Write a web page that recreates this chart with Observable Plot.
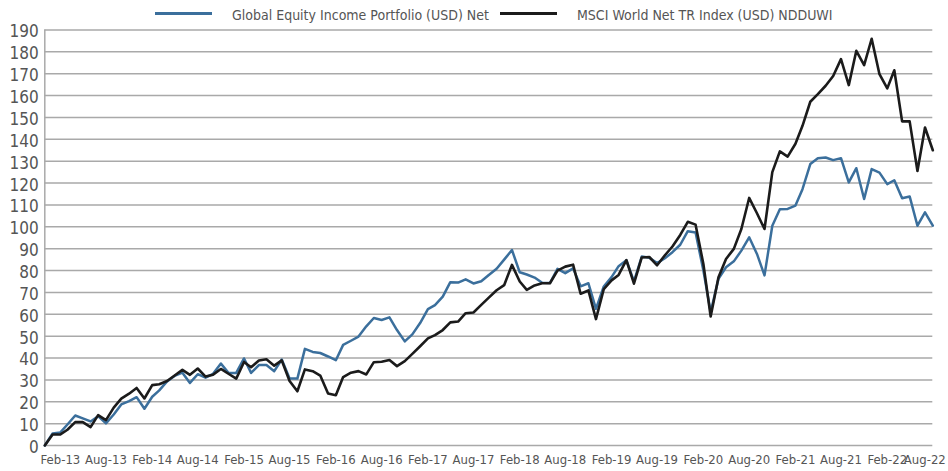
<!DOCTYPE html>
<html><head><meta charset="utf-8">
<script src="https://cdn.jsdelivr.net/npm/d3@7"></script>
<script src="https://cdn.jsdelivr.net/npm/@observablehq/plot@0.6"></script>
<style>
body{margin:0;background:#fff;width:948px;height:471px;overflow:hidden;font-family:"Liberation Sans Narrow","DejaVu Sans Condensed","Roboto Condensed",sans-serif;}
#legend{position:relative;height:22px;width:948px;}
.sw{position:absolute;top:12px;height:3px;width:57px;}
.lt{position:absolute;top:8px;font-size:14px;line-height:14px;color:#555;white-space:nowrap;}
</style></head><body>
<div id="legend"></div>
<div id="chart"></div>
<script>
const seriesNames = ["Global Equity Income Portfolio (USD) Net", "MSCI World Net TR Index (USD) NDDUWI"];
const seriesColors = ["#3b6f9c", "#1b1b1b"];

// Monthly, Dec-12 (base 0) through Aug-22
const portfolio = [
0,5.5,6.0,9.6,13.7,12.4,11.0,13.4,10.1,14.2,18.8,20.3,22.1,16.8,22.3,25.2,29.3,31.8,33.3,28.6,
32.6,31.0,32.8,37.5,33.2,33.2,39.8,33.2,36.8,36.8,34.0,39.3,30.6,30.6,44.2,42.8,42.3,40.7,39.0,46.0,
47.9,49.8,54.5,58.3,57.4,58.6,52.8,47.6,50.8,56.0,62.4,64.2,68.1,74.7,74.5,76.0,74.1,75.1,78.0,80.8,
85.0,89.4,79.2,78.2,76.8,74.4,74.3,80.8,78.8,81.0,72.8,74.2,62.5,72.7,77.0,82.0,84.7,75.0,86.4,85.9,
83.4,85.6,88.4,91.8,98.0,97.4,80.0,61.0,76.2,81.5,84.2,89.1,95.2,87.6,77.8,100.5,108.0,108.2,109.7,117.2,
128.7,131.4,131.7,130.5,131.4,120.3,126.8,112.7,126.4,124.8,119.5,121.3,113.1,113.9,100.5,106.6,100.5
];
const benchmark = [
0,5.0,5.1,7.2,10.7,10.7,8.4,13.9,11.6,17.3,21.4,23.7,26.3,21.5,27.6,28.0,29.5,32.0,34.6,32.3,
35.2,31.5,32.4,35.0,32.8,30.6,38.2,35.8,38.9,39.4,36.5,38.9,29.5,24.8,34.8,34.0,32.0,23.8,23.0,31.3,
33.3,34.0,32.5,38.1,38.3,39.1,36.3,38.6,41.9,45.4,49.0,50.5,52.8,56.3,56.7,60.5,60.8,64.3,67.6,71.0,
73.3,82.6,75.0,71.2,73.2,74.2,74.2,80.0,81.8,82.7,69.4,70.9,57.8,71.5,75.5,78.0,84.8,74.0,86.0,86.2,
82.4,87.0,91.0,96.3,102.3,101.0,83.0,59.0,76.9,85.3,89.9,99.0,113.2,106.2,99.0,125.0,134.5,132.1,138.0,146.2,
157.2,160.7,164.5,169.0,176.7,164.8,180.5,173.9,186.0,169.8,163.3,171.6,148.2,148.2,125.5,145.4,135.0
];
const tickLabels = ["Feb-13","Aug-13","Feb-14","Aug-14","Feb-15","Aug-15","Feb-16","Aug-16","Feb-17","Aug-17",
"Feb-18","Aug-18","Feb-19","Aug-19","Feb-20","Aug-20","Feb-21","Aug-21","Feb-22","Aug-22"];
const yTicks = [0,10,20,30,40,50,60,70,80,90,100,110,120,130,140,150,160,170,180,190];

const months = d3.utcMonth.range(new Date(Date.UTC(2012,11,1)), new Date(Date.UTC(2022,8,1)));
const parse = d3.utcParse("%b-%y");
const tickDates = tickLabels.map(parse);
const labelByTime = new Map(tickDates.map((d,i)=>[+d, tickLabels[i]]));

// legend
const leg = document.getElementById("legend");
const legPos = [[155,232],[500,577]];
seriesNames.forEach((n,i)=>{
  const s=document.createElement("div");s.className="sw";s.style.left=legPos[i][0]+"px";s.style.background=seriesColors[i];leg.appendChild(s);
  const t=document.createElement("div");t.className="lt";t.style.left=legPos[i][1]+"px";t.textContent=n;leg.appendChild(t);
});

const font = '"Liberation Sans Narrow","DejaVu Sans Condensed","Roboto Condensed",sans-serif';
const axisOpts = {tickSize: 0, tickPadding: 9, fontSize: 13, fill: "#555", label: null, tickFormat: d => labelByTime.get(+d)};
const chart = Plot.plot({
  width: 948, height: 449,
  marginLeft: 44.3, marginRight: 15.7, marginTop: 7.5, marginBottom: 26,
  x: {type: "utc", domain: [months[0], months[months.length-1]]},
  y: {domain: [0, 190]},
  style: {fontFamily: font, background: "white", overflow: "visible"},
  marks: [
    Plot.ruleY(yTicks, {stroke: "#a9a9a9", strokeWidth: 1.5}),
    Plot.ruleX([months[0]], {y1: 0, y2: 190, stroke: "#a9a9a9", strokeWidth: 1.5}),
    Plot.axisY(yTicks, {tickSize: 0, tickPadding: 6, fontSize: 17, fill: "#555", dy: 2, label: null, tickFormat: d => String(d)}),
    Plot.axisX(tickDates.slice(0, -1), axisOpts),
    Plot.axisX(tickDates.slice(-1), {...axisOpts, dx: -8}),
    Plot.line(months, {x: d => d, y: (d, i) => portfolio[i], stroke: seriesColors[0], strokeWidth: 2.5, strokeLinejoin: "round"}),
    Plot.line(months, {x: d => d, y: (d, i) => benchmark[i], stroke: seriesColors[1], strokeWidth: 2.6, strokeLinejoin: "round"})
  ]
});
document.getElementById("chart").appendChild(chart);
</script>
</body></html>
